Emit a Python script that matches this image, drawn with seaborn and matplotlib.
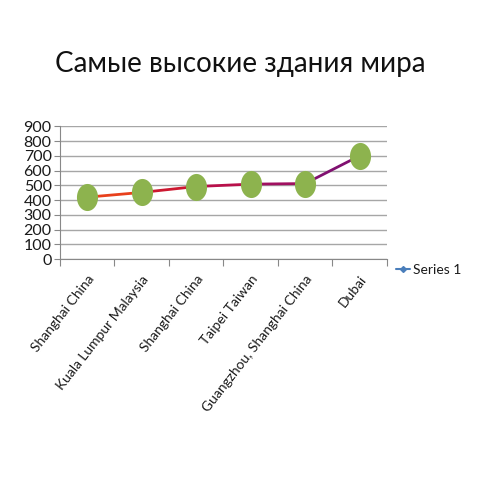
import numpy as np
import pandas as pd
import matplotlib
matplotlib.use("Agg")
import matplotlib.pyplot as plt
import seaborn as sns
from matplotlib.path import Path
from matplotlib.lines import Line2D

# data
cities = ["Shanghai China", "Kuala Lumpur Malaysia", "Shanghai China",
          "Taipei Taiwan", "Guangzhou, Shanghai China", "Dubai"]
heights = [420, 452, 492, 508, 512, 700]
title = "Самые высокие здания мира"
series_name = "Series 1"

sns.set_style("white")
plt.rcParams['font.family'] = ['Lato', 'DejaVu Sans']

df = pd.DataFrame({"pos": np.arange(len(cities)), "city": cities, "height": heights})

fig = plt.figure(figsize=(4.8, 4.8), dpi=100)
ax = fig.add_axes([0.125, 0.46, 0.681, 0.277])

# line drawn segment by segment, red to purple like the original
seg_colors = ["#e8401c", "#cc1830", "#b8104a", "#a01060", "#801070", "#3a1c78"]
for i in range(len(df) - 1):
    sns.lineplot(data=df.iloc[i:i + 2], x="pos", y="height", ax=ax,
                 color=seg_colors[i], lw=2, legend=False)

# tall green ellipse markers (slide was squashed into a square)
t = np.linspace(0, 2 * np.pi, 60)
ell = Path(np.column_stack([0.78 * np.cos(t), np.sin(t)]))
sns.scatterplot(data=df, x="pos", y="height", ax=ax, marker=ell, s=380,
                color="#8db34e", edgecolor="#8db34e", linewidth=0, zorder=5)

ax.set_xlim(-0.5, len(cities) - 0.5)
ax.set_ylim(0, 900)
ax.set_yticks(range(0, 901, 100))
ax.yaxis.grid(True, color="#a6a6a6", lw=1)
ax.set_axisbelow(True)
ax.set_xticks(np.arange(-0.5, len(cities), 1.0))
ax.set_xticklabels([])
ax.set_xticks(np.arange(len(cities)), minor=True)
ax.set_xticklabels(cities, minor=True, rotation=52, ha="right",
                   rotation_mode="anchor", fontsize=10, color="#1a1a1a")
ax.tick_params(axis="x", which="major", length=5, color="#888888", direction="out", bottom=True)
ax.tick_params(axis="x", which="minor", length=0, pad=10)
ax.tick_params(axis="y", length=4, color="#888888", labelsize=11.5, left=True,
               direction="out", pad=2, labelcolor="#1a1a1a")
ax.set_xlabel("")
ax.set_ylabel("")
for s in ["top", "right"]:
    ax.spines[s].set_visible(False)
ax.spines["left"].set_color("#888888")
ax.spines["bottom"].set_color("#888888")

handle = Line2D([], [], color="#4a7ebb", lw=1.5, marker="D", markersize=3)
ax.legend([handle], [series_name], loc="center left", bbox_to_anchor=(0.99, -0.08),
          frameon=False, fontsize=10, handlelength=1.0, handletextpad=0.2,
          labelcolor="#1a1a1a")

fig.text(0.5, 0.866, title, ha="center", va="center", fontsize=20, color="#111111")

fig.savefig("out.png", dpi=100, facecolor="white")
